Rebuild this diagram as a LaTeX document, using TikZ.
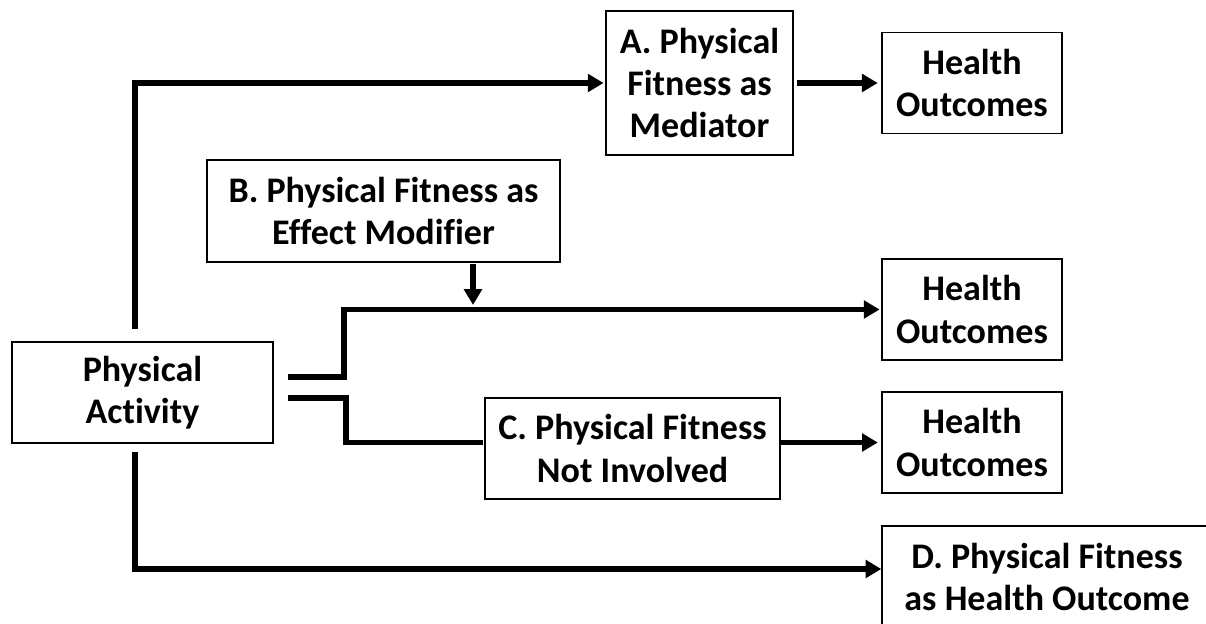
\documentclass[tikz,border=0pt]{standalone}
\usepackage{fontspec}
\setmainfont[Ligatures=NoCommon]{Carlito}
\usetikzlibrary{arrows.meta, positioning, calc}

\tikzset{
  box/.style={draw, line width=0.8pt, align=center, inner sep=0pt,
    font=\fontsize{20.5}{24}\selectfont\bfseries},
  link/.style={line width=3.3pt, -{Triangle[length=9pt,width=10pt]}},
  plain/.style={line width=3.3pt},
}

\begin{document}
\begin{tikzpicture}[x=0.02cm, y=-0.02cm, shorten >=1pt]
  \useasboundingbox (0,0) rectangle (1206,624);

  \node[box, minimum width=5.22cm, minimum height=2.02cm] (PA) at (142.5,392.5) {Physical\\Activity};
  \node[box, minimum width=3.74cm, minimum height=2.88cm] (A)  at (699.5,83) {A. Physical\\Fitness as\\Mediator};
  \node[box, minimum width=3.6cm, minimum height=2.02cm, on grid, right=5.45cm of A] (HO1) {Health\\Outcomes};
  \node[box, minimum width=7.06cm, minimum height=2.04cm] (B)  at (383.5,211) {B. Physical Fitness as\\Effect Modifier};
  \node[box, minimum width=3.6cm, minimum height=2.02cm] (HO2) at (972,309.5) {Health\\Outcomes};
  \node[box, minimum width=5.9cm, minimum height=2.02cm] (C)  at (632.5,448.5) {C. Physical Fitness\\Not Involved};
  \node[box, minimum width=3.6cm, minimum height=2.02cm] (HO3) at (972,442.5) {Health\\Outcomes};
  \node[box, minimum width=6.6cm, minimum height=2.04cm] (D)  at (1047,577) {D. Physical Fitness\\as Health Outcome};

  % loose ends next to Physical Activity
  \coordinate (pa top) at (135,329);
  \coordinate (pa bot) at (135,452);
  \coordinate (pa up)  at (288,377);
  \coordinate (pa dn)  at (288,398);
  \coordinate (mod)    at (473,312);

  % A: mediator
  \draw[link] (pa top) |- (A.west);
  \draw[link, shorten <=2pt, shorten >=2pt] (A.east) -- (HO1.west);

  % B: effect modifier
  \draw[link] (pa up) -- (344,377) |- (HO2.west);
  \draw[link, shorten <=1pt, shorten >=4pt] (B.south -| mod) -- (mod);

  % C: not involved
  \draw[plain] (pa dn) -- (346,398) |- (C.west |- HO3.west);
  \draw[link, shorten >=2pt] (C.east |- HO3.west) -- (HO3.west);

  % D: health outcome
  \draw[link, shorten >=0pt] (pa bot) |- ($(D.west)+(0,-8)$);
\end{tikzpicture}
\end{document}
